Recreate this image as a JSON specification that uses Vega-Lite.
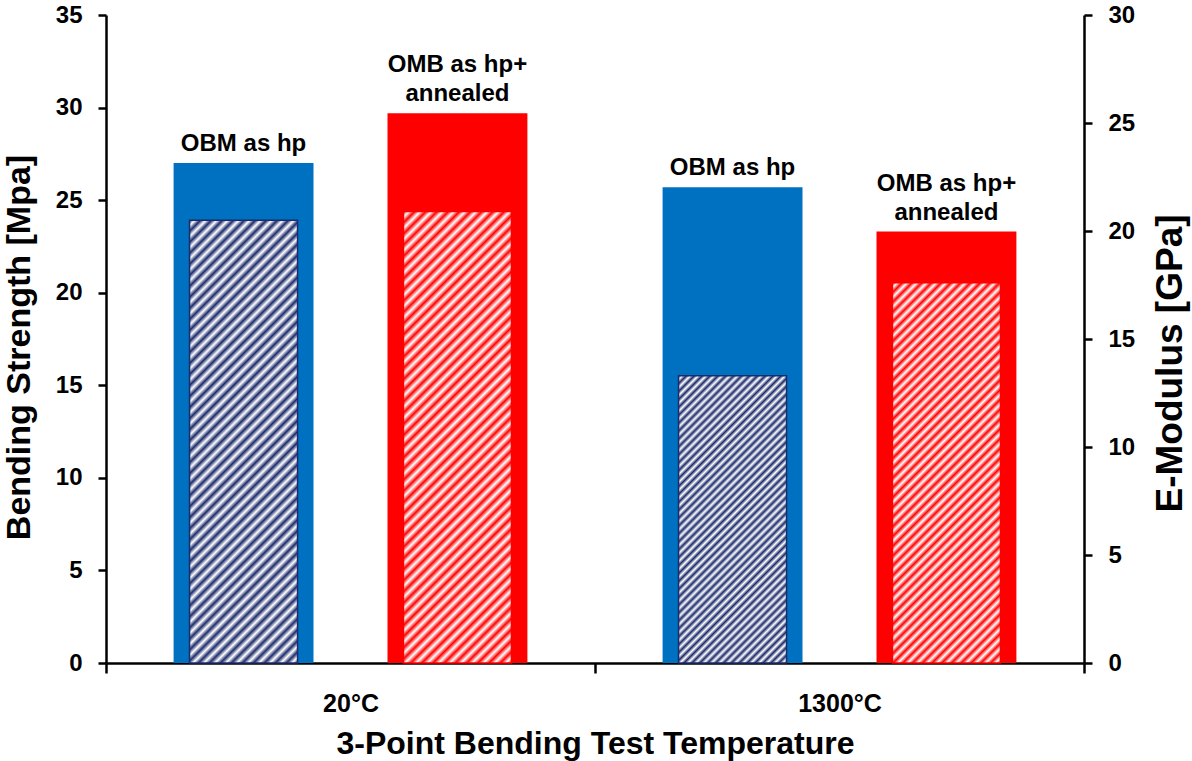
{"$schema":"https://vega.github.io/schema/vega-lite/v6.json","width":978,"height":648,"autosize":"none","padding":{"left":106,"top":15,"right":108,"bottom":98},"background":"white",
"config":{"view":{"stroke":null},"axis":{"grid":false,"labelFont":"Liberation Sans","titleFont":"Liberation Sans","labelFontWeight":"bold","titleFontWeight":"bold","labelColor":"black","titleColor":"black","domainColor":"black","tickColor":"black","domainWidth":2.5,"tickWidth":2.5}},
"data":{"values":[
{"temp":"20°C","group":"OBM as hp","strength":27.0,"modulus":20.5,"label":"OBM as hp"},
{"temp":"20°C","group":"OMB as hp+ annealed","strength":29.7,"modulus":20.9,"label":"OMB as hp+\nannealed"},
{"temp":"1300°C","group":"OBM as hp","strength":25.7,"modulus":13.3,"label":"OBM as hp"},
{"temp":"1300°C","group":"OMB as hp+ annealed","strength":23.3,"modulus":17.6,"label":"OMB as hp+\nannealed"}]},
"encoding":{"x":{"field":"temp","type":"nominal","sort":["20°C","1300°C"],"scale":{"paddingInner":0,"paddingOuter":0},"axis":{"title":"3-Point Bending Test Temperature","labelAngle":0,"tickBand":"extent","tickSize":10,"labelPadding":18,"labelFontSize":25,"titleFontSize":32,"titleY":90,"titleBaseline":"alphabetic"}},
"xOffset":{"field":"group","type":"nominal","sort":["OBM as hp","OMB as hp+ annealed"],"scale":{"paddingInner":0.346,"paddingOuter":0.316}}},
"layer":[
{"mark":{"type":"bar"},"encoding":{"y":{"field":"strength","type":"quantitative","scale":{"domain":[0,35],"nice":false},"axis":{"orient":"left","title":"Bending Strength [Mpa]","values":[0,5,10,15,20,25,30,35],"tickSize":8,"labelPadding":16,"labelFontSize":24,"titleFontSize":34,"titleAngle":270,"titleX":-77,"titleY":332,"titleBaseline":"alphabetic","titleAlign":"center"}},"color":{"field":"group","type":"nominal","scale":{"domain":["OBM as hp","OMB as hp+ annealed"],"range":["#0070c0","#ff0000"]},"legend":null}}},
{"mark":{"type":"bar","width":108,"strokeWidth":1.5},"encoding":{"y":{"field":"modulus","type":"quantitative","scale":{"domain":[0,30],"nice":false},"axis":{"orient":"right","title":"E-Modulus [GPa]","values":[0,5,10,15,20,25,30],"tickSize":8,"labelPadding":16,"labelFontSize":24,"titleFontSize":37,"titleAngle":270,"titleX":97,"titleY":348,"titleBaseline":"alphabetic","titleAlign":"center"}},
"stroke":{"condition":{"test":"datum.group==='OBM as hp'","value":"#1c2b6b"},"value":"#ff0000"},
"fill":{"condition":[
{"test":"datum.temp==='20°C' && datum.group==='OBM as hp'","value":{"gradient":"linear","x1":0,"y1":0,"x2":0.287,"y2":1.174,"stops":[{"offset":0,"color":"#1c2b6b"},{"offset":0.01,"color":"#fff"},{"offset":0.02,"color":"#1c2b6b"},{"offset":0.03,"color":"#fff"},{"offset":0.04,"color":"#1c2b6b"},{"offset":0.05,"color":"#fff"},{"offset":0.06,"color":"#1c2b6b"},{"offset":0.07,"color":"#fff"},{"offset":0.08,"color":"#1c2b6b"},{"offset":0.09,"color":"#fff"},{"offset":0.1,"color":"#1c2b6b"},{"offset":0.11,"color":"#fff"},{"offset":0.12,"color":"#1c2b6b"},{"offset":0.13,"color":"#fff"},{"offset":0.14,"color":"#1c2b6b"},{"offset":0.15,"color":"#fff"},{"offset":0.16,"color":"#1c2b6b"},{"offset":0.17,"color":"#fff"},{"offset":0.18,"color":"#1c2b6b"},{"offset":0.19,"color":"#fff"},{"offset":0.2,"color":"#1c2b6b"},{"offset":0.21,"color":"#fff"},{"offset":0.22,"color":"#1c2b6b"},{"offset":0.23,"color":"#fff"},{"offset":0.24,"color":"#1c2b6b"},{"offset":0.25,"color":"#fff"},{"offset":0.26,"color":"#1c2b6b"},{"offset":0.27,"color":"#fff"},{"offset":0.28,"color":"#1c2b6b"},{"offset":0.29,"color":"#fff"},{"offset":0.3,"color":"#1c2b6b"},{"offset":0.31,"color":"#fff"},{"offset":0.32,"color":"#1c2b6b"},{"offset":0.33,"color":"#fff"},{"offset":0.34,"color":"#1c2b6b"},{"offset":0.35,"color":"#fff"},{"offset":0.36,"color":"#1c2b6b"},{"offset":0.37,"color":"#fff"},{"offset":0.38,"color":"#1c2b6b"},{"offset":0.39,"color":"#fff"},{"offset":0.4,"color":"#1c2b6b"},{"offset":0.41,"color":"#fff"},{"offset":0.42,"color":"#1c2b6b"},{"offset":0.43,"color":"#fff"},{"offset":0.44,"color":"#1c2b6b"},{"offset":0.45,"color":"#fff"},{"offset":0.46,"color":"#1c2b6b"},{"offset":0.47,"color":"#fff"},{"offset":0.48,"color":"#1c2b6b"},{"offset":0.49,"color":"#fff"},{"offset":0.5,"color":"#1c2b6b"},{"offset":0.51,"color":"#fff"},{"offset":0.52,"color":"#1c2b6b"},{"offset":0.53,"color":"#fff"},{"offset":0.54,"color":"#1c2b6b"},{"offset":0.55,"color":"#fff"},{"offset":0.56,"color":"#1c2b6b"},{"offset":0.57,"color":"#fff"},{"offset":0.58,"color":"#1c2b6b"},{"offset":0.59,"color":"#fff"},{"offset":0.6,"color":"#1c2b6b"},{"offset":0.61,"color":"#fff"},{"offset":0.62,"color":"#1c2b6b"},{"offset":0.63,"color":"#fff"},{"offset":0.64,"color":"#1c2b6b"},{"offset":0.65,"color":"#fff"},{"offset":0.66,"color":"#1c2b6b"},{"offset":0.67,"color":"#fff"},{"offset":0.68,"color":"#1c2b6b"},{"offset":0.69,"color":"#fff"},{"offset":0.7,"color":"#1c2b6b"},{"offset":0.71,"color":"#fff"},{"offset":0.72,"color":"#1c2b6b"},{"offset":0.73,"color":"#fff"},{"offset":0.74,"color":"#1c2b6b"},{"offset":0.75,"color":"#fff"},{"offset":0.76,"color":"#1c2b6b"},{"offset":0.77,"color":"#fff"},{"offset":0.78,"color":"#1c2b6b"},{"offset":0.79,"color":"#fff"},{"offset":0.8,"color":"#1c2b6b"},{"offset":0.81,"color":"#fff"},{"offset":0.82,"color":"#1c2b6b"},{"offset":0.83,"color":"#fff"},{"offset":0.84,"color":"#1c2b6b"},{"offset":0.85,"color":"#fff"},{"offset":0.86,"color":"#1c2b6b"},{"offset":0.87,"color":"#fff"},{"offset":0.88,"color":"#1c2b6b"},{"offset":0.89,"color":"#fff"},{"offset":0.9,"color":"#1c2b6b"},{"offset":0.91,"color":"#fff"},{"offset":0.92,"color":"#1c2b6b"},{"offset":0.93,"color":"#fff"},{"offset":0.94,"color":"#1c2b6b"},{"offset":0.95,"color":"#fff"},{"offset":0.96,"color":"#1c2b6b"},{"offset":0.97,"color":"#fff"},{"offset":0.98,"color":"#1c2b6b"},{"offset":0.99,"color":"#fff"},{"offset":1,"color":"#1c2b6b"}]}},
{"test":"datum.temp==='1300°C' && datum.group==='OBM as hp'","value":{"gradient":"linear","x1":0,"y1":0,"x2":0.454,"y2":1.206,"stops":[{"offset":0,"color":"#1c2b6b"},{"offset":0.01,"color":"#fff"},{"offset":0.02,"color":"#1c2b6b"},{"offset":0.03,"color":"#fff"},{"offset":0.04,"color":"#1c2b6b"},{"offset":0.05,"color":"#fff"},{"offset":0.06,"color":"#1c2b6b"},{"offset":0.07,"color":"#fff"},{"offset":0.08,"color":"#1c2b6b"},{"offset":0.09,"color":"#fff"},{"offset":0.1,"color":"#1c2b6b"},{"offset":0.11,"color":"#fff"},{"offset":0.12,"color":"#1c2b6b"},{"offset":0.13,"color":"#fff"},{"offset":0.14,"color":"#1c2b6b"},{"offset":0.15,"color":"#fff"},{"offset":0.16,"color":"#1c2b6b"},{"offset":0.17,"color":"#fff"},{"offset":0.18,"color":"#1c2b6b"},{"offset":0.19,"color":"#fff"},{"offset":0.2,"color":"#1c2b6b"},{"offset":0.21,"color":"#fff"},{"offset":0.22,"color":"#1c2b6b"},{"offset":0.23,"color":"#fff"},{"offset":0.24,"color":"#1c2b6b"},{"offset":0.25,"color":"#fff"},{"offset":0.26,"color":"#1c2b6b"},{"offset":0.27,"color":"#fff"},{"offset":0.28,"color":"#1c2b6b"},{"offset":0.29,"color":"#fff"},{"offset":0.3,"color":"#1c2b6b"},{"offset":0.31,"color":"#fff"},{"offset":0.32,"color":"#1c2b6b"},{"offset":0.33,"color":"#fff"},{"offset":0.34,"color":"#1c2b6b"},{"offset":0.35,"color":"#fff"},{"offset":0.36,"color":"#1c2b6b"},{"offset":0.37,"color":"#fff"},{"offset":0.38,"color":"#1c2b6b"},{"offset":0.39,"color":"#fff"},{"offset":0.4,"color":"#1c2b6b"},{"offset":0.41,"color":"#fff"},{"offset":0.42,"color":"#1c2b6b"},{"offset":0.43,"color":"#fff"},{"offset":0.44,"color":"#1c2b6b"},{"offset":0.45,"color":"#fff"},{"offset":0.46,"color":"#1c2b6b"},{"offset":0.47,"color":"#fff"},{"offset":0.48,"color":"#1c2b6b"},{"offset":0.49,"color":"#fff"},{"offset":0.5,"color":"#1c2b6b"},{"offset":0.51,"color":"#fff"},{"offset":0.52,"color":"#1c2b6b"},{"offset":0.53,"color":"#fff"},{"offset":0.54,"color":"#1c2b6b"},{"offset":0.55,"color":"#fff"},{"offset":0.56,"color":"#1c2b6b"},{"offset":0.57,"color":"#fff"},{"offset":0.58,"color":"#1c2b6b"},{"offset":0.59,"color":"#fff"},{"offset":0.6,"color":"#1c2b6b"},{"offset":0.61,"color":"#fff"},{"offset":0.62,"color":"#1c2b6b"},{"offset":0.63,"color":"#fff"},{"offset":0.64,"color":"#1c2b6b"},{"offset":0.65,"color":"#fff"},{"offset":0.66,"color":"#1c2b6b"},{"offset":0.67,"color":"#fff"},{"offset":0.68,"color":"#1c2b6b"},{"offset":0.69,"color":"#fff"},{"offset":0.7,"color":"#1c2b6b"},{"offset":0.71,"color":"#fff"},{"offset":0.72,"color":"#1c2b6b"},{"offset":0.73,"color":"#fff"},{"offset":0.74,"color":"#1c2b6b"},{"offset":0.75,"color":"#fff"},{"offset":0.76,"color":"#1c2b6b"},{"offset":0.77,"color":"#fff"},{"offset":0.78,"color":"#1c2b6b"},{"offset":0.79,"color":"#fff"},{"offset":0.8,"color":"#1c2b6b"},{"offset":0.81,"color":"#fff"},{"offset":0.82,"color":"#1c2b6b"},{"offset":0.83,"color":"#fff"},{"offset":0.84,"color":"#1c2b6b"},{"offset":0.85,"color":"#fff"},{"offset":0.86,"color":"#1c2b6b"},{"offset":0.87,"color":"#fff"},{"offset":0.88,"color":"#1c2b6b"},{"offset":0.89,"color":"#fff"},{"offset":0.9,"color":"#1c2b6b"},{"offset":0.91,"color":"#fff"},{"offset":0.92,"color":"#1c2b6b"},{"offset":0.93,"color":"#fff"},{"offset":0.94,"color":"#1c2b6b"},{"offset":0.95,"color":"#fff"},{"offset":0.96,"color":"#1c2b6b"},{"offset":0.97,"color":"#fff"},{"offset":0.98,"color":"#1c2b6b"},{"offset":0.99,"color":"#fff"},{"offset":1,"color":"#1c2b6b"}]}},
{"test":"datum.temp==='20°C'","value":{"gradient":"linear","x1":0,"y1":0,"x2":0.28,"y2":1.172,"stops":[{"offset":0,"color":"#ff0000"},{"offset":0.01,"color":"#fff"},{"offset":0.02,"color":"#ff0000"},{"offset":0.03,"color":"#fff"},{"offset":0.04,"color":"#ff0000"},{"offset":0.05,"color":"#fff"},{"offset":0.06,"color":"#ff0000"},{"offset":0.07,"color":"#fff"},{"offset":0.08,"color":"#ff0000"},{"offset":0.09,"color":"#fff"},{"offset":0.1,"color":"#ff0000"},{"offset":0.11,"color":"#fff"},{"offset":0.12,"color":"#ff0000"},{"offset":0.13,"color":"#fff"},{"offset":0.14,"color":"#ff0000"},{"offset":0.15,"color":"#fff"},{"offset":0.16,"color":"#ff0000"},{"offset":0.17,"color":"#fff"},{"offset":0.18,"color":"#ff0000"},{"offset":0.19,"color":"#fff"},{"offset":0.2,"color":"#ff0000"},{"offset":0.21,"color":"#fff"},{"offset":0.22,"color":"#ff0000"},{"offset":0.23,"color":"#fff"},{"offset":0.24,"color":"#ff0000"},{"offset":0.25,"color":"#fff"},{"offset":0.26,"color":"#ff0000"},{"offset":0.27,"color":"#fff"},{"offset":0.28,"color":"#ff0000"},{"offset":0.29,"color":"#fff"},{"offset":0.3,"color":"#ff0000"},{"offset":0.31,"color":"#fff"},{"offset":0.32,"color":"#ff0000"},{"offset":0.33,"color":"#fff"},{"offset":0.34,"color":"#ff0000"},{"offset":0.35,"color":"#fff"},{"offset":0.36,"color":"#ff0000"},{"offset":0.37,"color":"#fff"},{"offset":0.38,"color":"#ff0000"},{"offset":0.39,"color":"#fff"},{"offset":0.4,"color":"#ff0000"},{"offset":0.41,"color":"#fff"},{"offset":0.42,"color":"#ff0000"},{"offset":0.43,"color":"#fff"},{"offset":0.44,"color":"#ff0000"},{"offset":0.45,"color":"#fff"},{"offset":0.46,"color":"#ff0000"},{"offset":0.47,"color":"#fff"},{"offset":0.48,"color":"#ff0000"},{"offset":0.49,"color":"#fff"},{"offset":0.5,"color":"#ff0000"},{"offset":0.51,"color":"#fff"},{"offset":0.52,"color":"#ff0000"},{"offset":0.53,"color":"#fff"},{"offset":0.54,"color":"#ff0000"},{"offset":0.55,"color":"#fff"},{"offset":0.56,"color":"#ff0000"},{"offset":0.57,"color":"#fff"},{"offset":0.58,"color":"#ff0000"},{"offset":0.59,"color":"#fff"},{"offset":0.6,"color":"#ff0000"},{"offset":0.61,"color":"#fff"},{"offset":0.62,"color":"#ff0000"},{"offset":0.63,"color":"#fff"},{"offset":0.64,"color":"#ff0000"},{"offset":0.65,"color":"#fff"},{"offset":0.66,"color":"#ff0000"},{"offset":0.67,"color":"#fff"},{"offset":0.68,"color":"#ff0000"},{"offset":0.69,"color":"#fff"},{"offset":0.7,"color":"#ff0000"},{"offset":0.71,"color":"#fff"},{"offset":0.72,"color":"#ff0000"},{"offset":0.73,"color":"#fff"},{"offset":0.74,"color":"#ff0000"},{"offset":0.75,"color":"#fff"},{"offset":0.76,"color":"#ff0000"},{"offset":0.77,"color":"#fff"},{"offset":0.78,"color":"#ff0000"},{"offset":0.79,"color":"#fff"},{"offset":0.8,"color":"#ff0000"},{"offset":0.81,"color":"#fff"},{"offset":0.82,"color":"#ff0000"},{"offset":0.83,"color":"#fff"},{"offset":0.84,"color":"#ff0000"},{"offset":0.85,"color":"#fff"},{"offset":0.86,"color":"#ff0000"},{"offset":0.87,"color":"#fff"},{"offset":0.88,"color":"#ff0000"},{"offset":0.89,"color":"#fff"},{"offset":0.9,"color":"#ff0000"},{"offset":0.91,"color":"#fff"},{"offset":0.92,"color":"#ff0000"},{"offset":0.93,"color":"#fff"},{"offset":0.94,"color":"#ff0000"},{"offset":0.95,"color":"#fff"},{"offset":0.96,"color":"#ff0000"},{"offset":0.97,"color":"#fff"},{"offset":0.98,"color":"#ff0000"},{"offset":0.99,"color":"#fff"},{"offset":1,"color":"#ff0000"}]}}],
"value":{"gradient":"linear","x1":0,"y1":0,"x2":0.338,"y2":1.188,"stops":[{"offset":0,"color":"#ff0000"},{"offset":0.01,"color":"#fff"},{"offset":0.02,"color":"#ff0000"},{"offset":0.03,"color":"#fff"},{"offset":0.04,"color":"#ff0000"},{"offset":0.05,"color":"#fff"},{"offset":0.06,"color":"#ff0000"},{"offset":0.07,"color":"#fff"},{"offset":0.08,"color":"#ff0000"},{"offset":0.09,"color":"#fff"},{"offset":0.1,"color":"#ff0000"},{"offset":0.11,"color":"#fff"},{"offset":0.12,"color":"#ff0000"},{"offset":0.13,"color":"#fff"},{"offset":0.14,"color":"#ff0000"},{"offset":0.15,"color":"#fff"},{"offset":0.16,"color":"#ff0000"},{"offset":0.17,"color":"#fff"},{"offset":0.18,"color":"#ff0000"},{"offset":0.19,"color":"#fff"},{"offset":0.2,"color":"#ff0000"},{"offset":0.21,"color":"#fff"},{"offset":0.22,"color":"#ff0000"},{"offset":0.23,"color":"#fff"},{"offset":0.24,"color":"#ff0000"},{"offset":0.25,"color":"#fff"},{"offset":0.26,"color":"#ff0000"},{"offset":0.27,"color":"#fff"},{"offset":0.28,"color":"#ff0000"},{"offset":0.29,"color":"#fff"},{"offset":0.3,"color":"#ff0000"},{"offset":0.31,"color":"#fff"},{"offset":0.32,"color":"#ff0000"},{"offset":0.33,"color":"#fff"},{"offset":0.34,"color":"#ff0000"},{"offset":0.35,"color":"#fff"},{"offset":0.36,"color":"#ff0000"},{"offset":0.37,"color":"#fff"},{"offset":0.38,"color":"#ff0000"},{"offset":0.39,"color":"#fff"},{"offset":0.4,"color":"#ff0000"},{"offset":0.41,"color":"#fff"},{"offset":0.42,"color":"#ff0000"},{"offset":0.43,"color":"#fff"},{"offset":0.44,"color":"#ff0000"},{"offset":0.45,"color":"#fff"},{"offset":0.46,"color":"#ff0000"},{"offset":0.47,"color":"#fff"},{"offset":0.48,"color":"#ff0000"},{"offset":0.49,"color":"#fff"},{"offset":0.5,"color":"#ff0000"},{"offset":0.51,"color":"#fff"},{"offset":0.52,"color":"#ff0000"},{"offset":0.53,"color":"#fff"},{"offset":0.54,"color":"#ff0000"},{"offset":0.55,"color":"#fff"},{"offset":0.56,"color":"#ff0000"},{"offset":0.57,"color":"#fff"},{"offset":0.58,"color":"#ff0000"},{"offset":0.59,"color":"#fff"},{"offset":0.6,"color":"#ff0000"},{"offset":0.61,"color":"#fff"},{"offset":0.62,"color":"#ff0000"},{"offset":0.63,"color":"#fff"},{"offset":0.64,"color":"#ff0000"},{"offset":0.65,"color":"#fff"},{"offset":0.66,"color":"#ff0000"},{"offset":0.67,"color":"#fff"},{"offset":0.68,"color":"#ff0000"},{"offset":0.69,"color":"#fff"},{"offset":0.7,"color":"#ff0000"},{"offset":0.71,"color":"#fff"},{"offset":0.72,"color":"#ff0000"},{"offset":0.73,"color":"#fff"},{"offset":0.74,"color":"#ff0000"},{"offset":0.75,"color":"#fff"},{"offset":0.76,"color":"#ff0000"},{"offset":0.77,"color":"#fff"},{"offset":0.78,"color":"#ff0000"},{"offset":0.79,"color":"#fff"},{"offset":0.8,"color":"#ff0000"},{"offset":0.81,"color":"#fff"},{"offset":0.82,"color":"#ff0000"},{"offset":0.83,"color":"#fff"},{"offset":0.84,"color":"#ff0000"},{"offset":0.85,"color":"#fff"},{"offset":0.86,"color":"#ff0000"},{"offset":0.87,"color":"#fff"},{"offset":0.88,"color":"#ff0000"},{"offset":0.89,"color":"#fff"},{"offset":0.9,"color":"#ff0000"},{"offset":0.91,"color":"#fff"},{"offset":0.92,"color":"#ff0000"},{"offset":0.93,"color":"#fff"},{"offset":0.94,"color":"#ff0000"},{"offset":0.95,"color":"#fff"},{"offset":0.96,"color":"#ff0000"},{"offset":0.97,"color":"#fff"},{"offset":0.98,"color":"#ff0000"},{"offset":0.99,"color":"#fff"},{"offset":1,"color":"#ff0000"}]}}}},
{"transform":[{"filter":"datum.group==='OBM as hp'"}],"mark":{"type":"text","font":"Liberation Sans","fontSize":24,"fontWeight":"bold","color":"black","baseline":"bottom","dy":-7,"lineHeight":29,"lineBreak":"\n"},"encoding":{"y":{"field":"strength","type":"quantitative","scale":{"domain":[0,35],"nice":false},"axis":null},"text":{"field":"label"}}},
{"transform":[{"filter":"datum.group!=='OBM as hp'"}],"mark":{"type":"text","font":"Liberation Sans","fontSize":24,"fontWeight":"bold","color":"black","baseline":"bottom","dy":-36,"lineHeight":29,"lineBreak":"\n"},"encoding":{"y":{"field":"strength","type":"quantitative","scale":{"domain":[0,35],"nice":false},"axis":null},"text":{"field":"label"}}}
],
"resolve":{"scale":{"y":"independent"}}}
